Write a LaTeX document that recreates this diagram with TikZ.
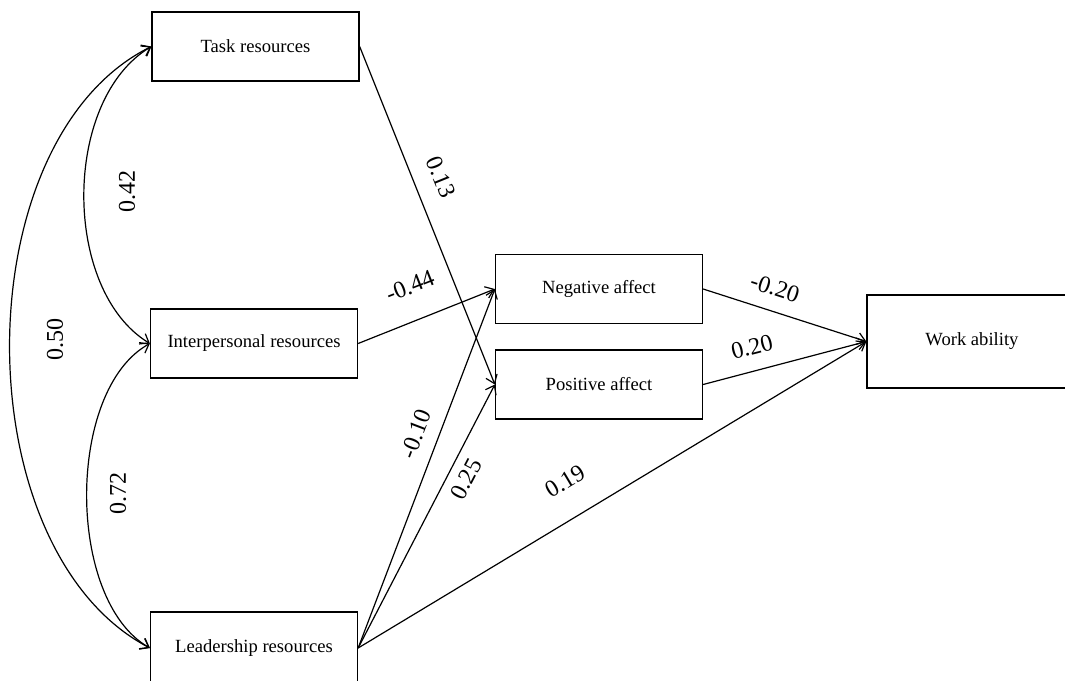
\documentclass[tikz,border=0pt]{standalone}
\usepackage{fontspec}
\setmainfont{Liberation Serif}
\usetikzlibrary{arrows.meta}
\begin{document}
\begin{tikzpicture}[x=1pt,y=-1pt,
  box/.style={draw,line width=1.3pt,minimum width=207pt,minimum height=69pt,inner sep=0pt,font=\fontsize{18.6}{22}\selectfont},
  path/.style={line width=1.2pt,-{Straight Barb[length=8pt,width=12pt,line width=1.2pt]}},
  cov/.style={line width=1.2pt,{Straight Barb[length=8pt,width=12pt,line width=1.2pt]}-{Straight Barb[length=8pt,width=12pt,line width=1.2pt]}},
  lab/.style={font=\fontsize{24}{28}\selectfont,inner sep=0pt}]
\useasboundingbox (0,0) rectangle (1065,680);
\clip (0,0) rectangle (1065,680);
\node[box] (task) at (255.5,46.5) {Task resources};
\node[box] (inter) at (254,343.5) {Interpersonal resources};
\node[box,minimum height=72pt] (lead) at (254,648) {Leadership resources};
\node[box] (neg) at (599,289) {Negative affect};
\node[box] (pos) at (599,384.5) {Positive affect};
\node[box,minimum width=210pt,minimum height=93pt] (work) at (972,341.5) {Work ability};
% paths
\draw[path] (task.east) -- (pos.west);
\draw[path] (inter.east) -- (neg.west);
\draw[path] (lead.east) -- (neg.west);
\draw[path] (lead.east) -- (pos.west);
\draw[path] (lead.east) -- (work.west);
\draw[path] (neg.east) -- (work.west);
\draw[path] (pos.east) -- (work.west);
% covariances
\draw[cov] (task.west) .. controls (62,100) and (62,290) .. (inter.west);
\draw[cov] (inter.west) .. controls (66,390) and (66,600) .. (lead.west);
\draw[cov] (task.west) .. controls (-37,140) and (-37,550) .. (lead.west);
% labels
\node[lab,rotate=-68] (l13) at (441,177) {0.13};
\node[lab,rotate=21.5] (l44) at (410,286) {-0.44};
\node[lab,rotate=69] (l10) at (416,434) {-0.10};
\node[lab,rotate=62.4] (l25) at (466,479) {0.25};
\node[lab,rotate=30.8] (l19) at (565,481) {0.19};
\node[lab,rotate=-17.9] (l20n) at (775,288) {-0.20};
\node[lab,rotate=14.4] (l20p) at (752,347) {0.20};
\node[lab,rotate=90] (l42) at (127,191) {0.42};
\node[lab,rotate=90] (l50) at (55,339) {0.50};
\node[lab,rotate=90] (l72) at (118,493) {0.72};
\end{tikzpicture}
\end{document}
